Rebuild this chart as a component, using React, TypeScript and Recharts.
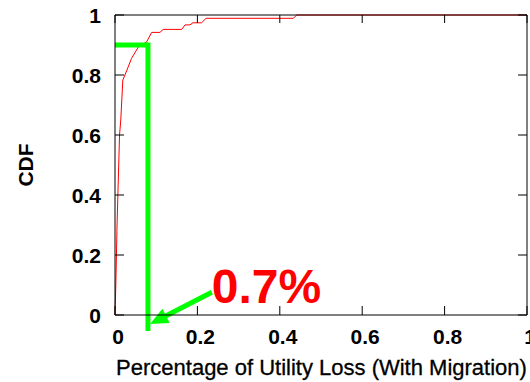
import React from 'react';
import {
  ComposedChart,
  Line,
  XAxis,
  YAxis,
  ReferenceLine,
  Label,
} from 'recharts';

// CDF of utility loss (fraction)
const lossValues = [
  0, 0.002, 0.005, 0.008, 0.011, 0.014, 0.019, 0.03, 0.04, 0.057, 0.077,
  0.089, 0.109, 0.117, 0.162, 0.17, 0.182, 0.189, 0.21, 0.221, 0.433, 0.441, 1,
];
const cdfValues = [
  0, 0.1, 0.3, 0.45, 0.6, 0.65, 0.783, 0.82, 0.855, 0.894, 0.911,
  0.942, 0.942, 0.952, 0.952, 0.967, 0.967, 0.974, 0.974, 0.989, 0.989, 1, 1,
];

const xTicks = [0, 0.2, 0.4, 0.6, 0.8, 1];
const yTicks = [0, 0.2, 0.4, 0.6, 0.8, 1];

// green marker: 90th percentile and where it lands on the x axis
const markCdf = 0.9;
const markLoss = 0.08;
const markBottom = -0.045;
// arrow from the callout text down to the marker
const arrowFrom = { x: 0.235, y: 0.076 };
const arrowTo = { x: 0.085, y: -0.03 };
const calloutText = '0.7%';

const data = lossValues.map((x, i) => ({ x, y: cdfValues[i] }));

const FONT = '"Liberation Sans", Arial, Helvetica, sans-serif';
const GREEN = '#00ff00';

const fmt = (v: number) => String(v);

const LeftTick = ({ x, y, payload }: any) => (
  <g>
    <line x1={x} y1={y} x2={x + 9} y2={y} stroke="#000" />
    <text x={x - 14} y={y} dy="0.36em" textAnchor="end" fontFamily={FONT}
      fontWeight="bold" fontSize={21} fill="#000">{fmt(payload.value)}</text>
  </g>
);

const RightTick = ({ x, y }: any) => (
  <line x1={x - 9} y1={y} x2={x} y2={y} stroke="#000" />
);

const BottomTick = ({ x, y, payload }: any) => (
  <g>
    <line x1={x} y1={y} x2={x} y2={y - 9} stroke="#000" />
    <text x={x + 3} y={y + 29} textAnchor="middle" fontFamily={FONT}
      fontWeight="bold" fontSize={21} fill="#000">{fmt(payload.value)}</text>
  </g>
);

const TopTick = ({ x, y }: any) => (
  <line x1={x} y1={y} x2={x} y2={y + 8} stroke="#000" />
);

const Arrow = (p: any) => {
  const { x1, y1, x2, y2 } = p;
  const dx = x2 - x1;
  const dy = y2 - y1;
  const len = Math.sqrt(dx * dx + dy * dy);
  const ux = dx / len;
  const uy = dy / len;
  const headLen = 18;
  const headW = 8;
  const bx = x2 - ux * headLen;
  const by = y2 - uy * headLen;
  const pts = [
    [x2, y2],
    [bx - uy * headW, by + ux * headW],
    [bx + uy * headW, by - ux * headW],
  ].map((q) => q.join(',')).join(' ');
  return (
    <g>
      <line x1={x1} y1={y1} x2={bx + ux * 2} y2={by + uy * 2} stroke={GREEN} strokeWidth={5} />
      <polygon points={pts} fill={GREEN} />
      <text x={x1} y={y1 + 11} fontFamily={FONT} fontWeight="bold" fontSize={48} fill="#ff0000">
        {calloutText}
      </text>
    </g>
  );
};

export default function App() {
  return (
    <div style={{ position: 'absolute', left: 0, top: 0, width: 530, height: 382, background: '#fff' }}>
      <ComposedChart
        width={530}
        height={382}
        data={data}
        margin={{ top: 14, right: 2, bottom: 66, left: 114 }}
      >
        <XAxis
          dataKey="x"
          type="number"
          domain={[0, 1]}
          ticks={xTicks}
          interval={0}
          height={1}
          tickSize={0}
          tickMargin={0}
          tickLine={false}
          axisLine={{ stroke: '#000' }}
          tick={<BottomTick />}
        >
          <Label
            content={({ viewBox }: any) => (
              <text x={viewBox.x + viewBox.width / 2 + 0.5} y={viewBox.y + 60} textAnchor="middle"
                fontFamily={FONT} fontSize={22} fill="#000" stroke="#000" strokeWidth={0.3}>
                Percentage of Utility Loss (With Migration)
              </text>
            )}
          />
        </XAxis>
        <XAxis
          xAxisId="top"
          orientation="top"
          dataKey="x"
          type="number"
          domain={[0, 1]}
          allowDataOverflow
          ticks={xTicks}
          interval={0}
          height={1}
          tickSize={0}
          tickMargin={0}
          tickLine={false}
          axisLine={{ stroke: '#000' }}
          tick={<TopTick />}
        />
        <YAxis
          dataKey="y"
          type="number"
          domain={[0, 1]}
          ticks={yTicks}
          interval={0}
          width={1}
          tickSize={0}
          tickMargin={0}
          tickLine={false}
          axisLine={{ stroke: '#000' }}
          tick={<LeftTick />}
        >
          <Label
            content={({ viewBox }: any) => {
              const cx = viewBox.x - 89;
              const cy = viewBox.y + viewBox.height / 2;
              return (
                <text x={cx} y={cy} dy="0.36em" textAnchor="middle" transform={`rotate(-90 ${cx} ${cy})`}
                  fontFamily={FONT} fontWeight="bold" fontSize={21} fill="#000">
                  CDF
                </text>
              );
            }}
          />
        </YAxis>
        <YAxis
          yAxisId="right"
          orientation="right"
          dataKey="y"
          type="number"
          domain={[0, 1]}
          allowDataOverflow
          ticks={yTicks}
          interval={0}
          width={1}
          tickSize={0}
          tickMargin={0}
          tickLine={false}
          axisLine={{ stroke: '#000' }}
          tick={<RightTick />}
        />
        <Line
          dataKey="y"
          type="linear"
          stroke="#ff0000"
          strokeWidth={1}
          dot={false}
          isAnimationActive={false}
        />
        <ReferenceLine
          segment={[{ x: 0, y: markCdf }, { x: markLoss, y: markCdf }]}
          stroke={GREEN}
          strokeWidth={5}
          ifOverflow="visible"
        />
        <ReferenceLine
          segment={[{ x: markLoss, y: markCdf }, { x: markLoss, y: markBottom }]}
          stroke={GREEN}
          strokeWidth={5}
          strokeLinecap="square"
          ifOverflow="visible"
        />
        <ReferenceLine
          segment={[arrowFrom, arrowTo]}
          ifOverflow="visible"
          shape={<Arrow />}
        />
      </ComposedChart>
    </div>
  );
}
